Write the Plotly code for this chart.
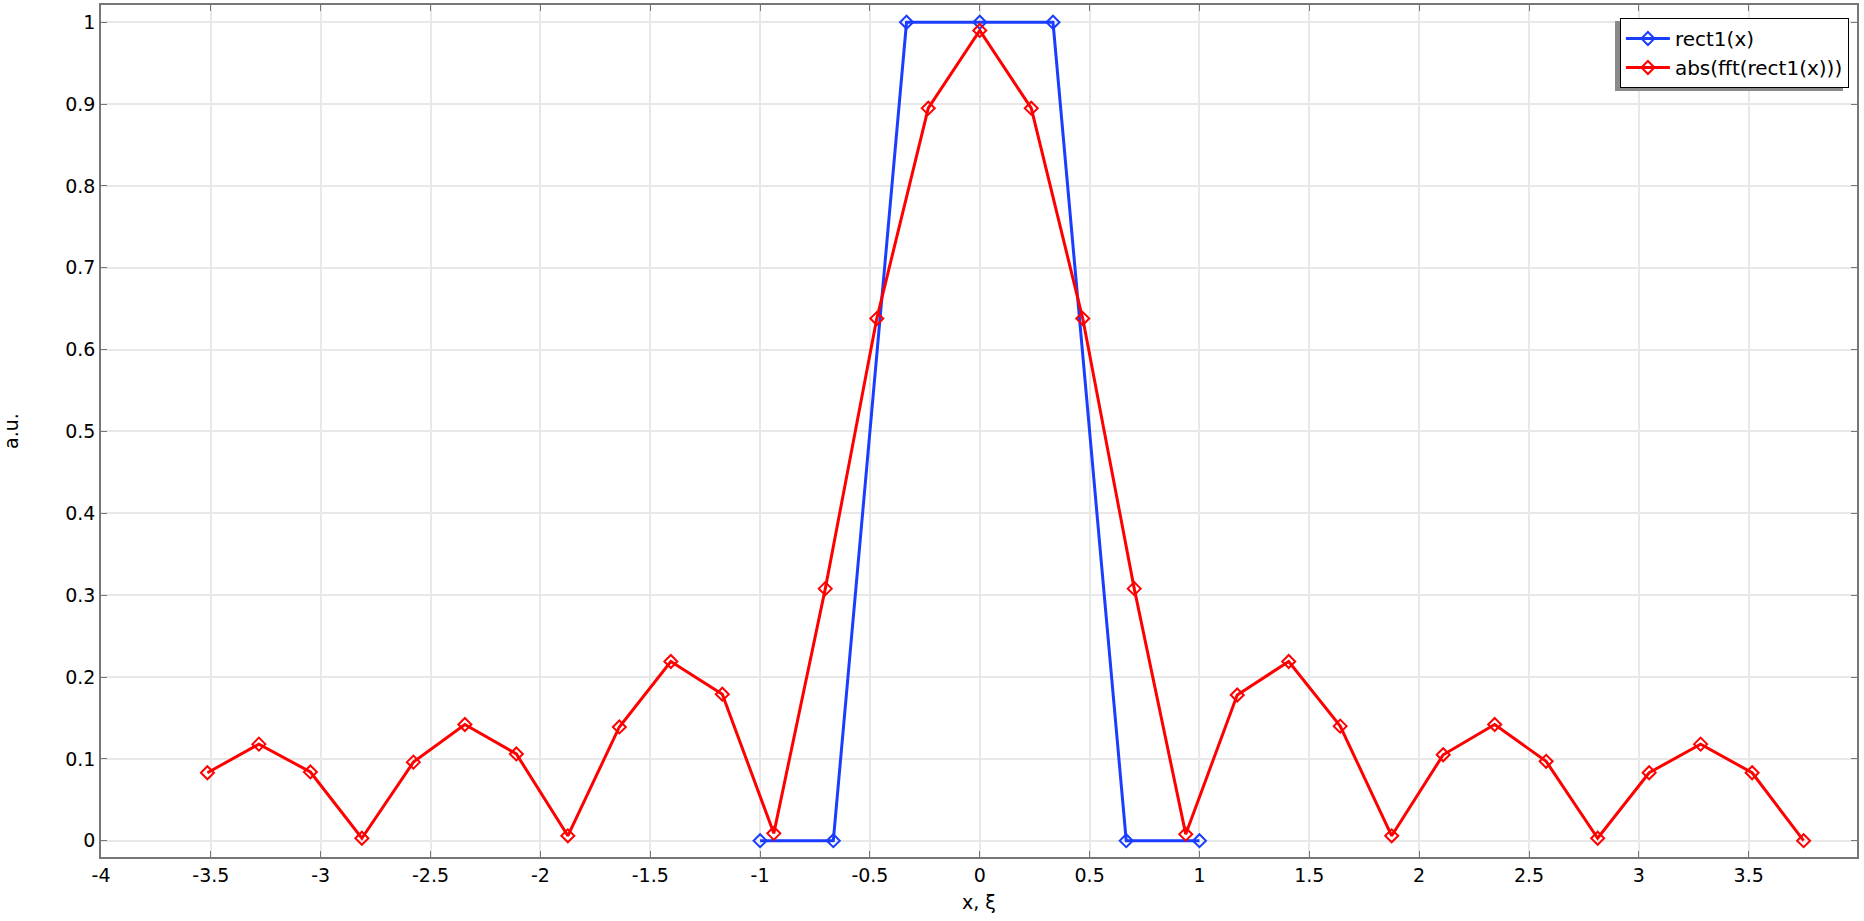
import plotly.graph_objects as go

# ── Data ──────────────────────────────────────────────────────────────────────
rect_x = [-1, -2/3, -1/3, 0, 1/3, 2/3, 1]
rect_y = [0, 0, 1, 1, 1, 0, 0]

fft_x = [k * 0.234375 for k in range(-15, 17)]
fft_y = [
    0.083, 0.118, 0.084, 0.003, 0.096, 0.142, 0.106, 0.006,
    0.139, 0.219, 0.179, 0.009, 0.308, 0.638, 0.895, 0.990,
    0.895, 0.638, 0.308, 0.008, 0.178, 0.219, 0.140, 0.006,
    0.105, 0.142, 0.097, 0.003, 0.083, 0.118, 0.083, 0.000,
]

x_ticks = [-4, -3.5, -3, -2.5, -2, -1.5, -1, -0.5, 0, 0.5, 1, 1.5, 2, 2.5, 3, 3.5]
y_ticks = [0, 0.1, 0.2, 0.3, 0.4, 0.5, 0.6, 0.7, 0.8, 0.9, 1]

# ── Style ─────────────────────────────────────────────────────────────────────
COLOR_RECT = "#1a3dff"
COLOR_FFT  = "#ff0000"
FONT       = "DejaVu Sans"
GRID       = "#e8e8e8"
AXIS_LINE  = "#777777"

fig = go.Figure()

fig.add_trace(go.Scatter(
    x=rect_x, y=rect_y,
    mode="lines+markers",
    name="rect1(x)",
    line=dict(color=COLOR_RECT, width=3),
    marker=dict(symbol="diamond-open", size=10, color=COLOR_RECT, line=dict(width=2)),
))

fig.add_trace(go.Scatter(
    x=fft_x, y=fft_y,
    mode="lines+markers",
    name="abs(fft(rect1(x)))",
    line=dict(color=COLOR_FFT, width=3),
    marker=dict(symbol="diamond-open", size=10, color=COLOR_FFT, line=dict(width=2)),
))

axis_common = dict(
    showgrid=True,
    gridcolor=GRID,
    gridwidth=2,
    zeroline=False,
    showline=True,
    linecolor=AXIS_LINE,
    linewidth=1.5,
    mirror="ticks",
    ticks="inside",
    ticklen=6,
    tickcolor=AXIS_LINE,
    tickfont=dict(family=FONT, size=19, color="black"),
    automargin=False,
)

fig.update_xaxes(
    range=[-4, 3.993],
    tickvals=x_ticks,
    ticktext=[f"{v:g}" for v in x_ticks],
    title=dict(text="x, ξ", font=dict(family=FONT, size=19, color="black"), standoff=11),
    **axis_common,
)
fig.update_yaxes(
    range=[-0.0199, 1.0211],
    tickvals=y_ticks,
    ticktext=[f"{v:g}" for v in y_ticks],
    title=dict(text="a.u.", font=dict(family=FONT, size=19, color="black"), standoff=66),
    **axis_common,
)

# legend drop shadow (offset down-left of the legend box)
fig.add_shape(
    type="rect", xref="paper", yref="paper",
    x0=0.8622, x1=0.9920, y0=0.8991, y1=0.9812,
    fillcolor="#8a8a8a", line=dict(width=0), layer="above",
)

fig.update_layout(
    width=1864,
    height=921,
    margin=dict(l=101, r=7, t=5, b=64),
    plot_bgcolor="white",
    paper_bgcolor="white",
    font=dict(family=FONT, size=19, color="black"),
    showlegend=True,
    legend=dict(
        x=0.9954, y=0.9847,
        xanchor="right", yanchor="top",
        bgcolor="white",
        bordercolor="black",
        borderwidth=1,
        itemwidth=44,
        font=dict(family=FONT, size=20, color="black"),
        tracegroupgap=0,
    ),
)

fig.write_html(
    "out.html",
    config={"displayModeBar": False},
    post_script="document.body.style.margin='0';",
)
